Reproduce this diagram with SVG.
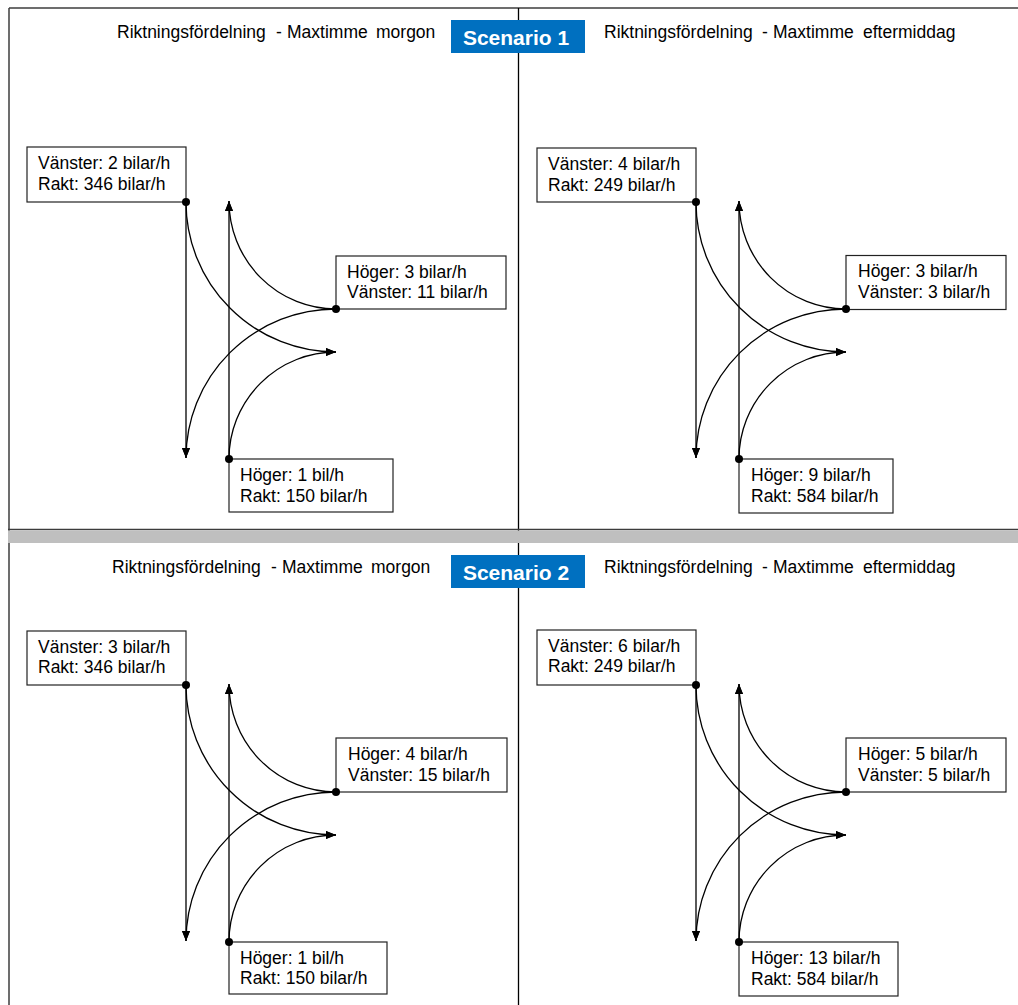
<svg xmlns="http://www.w3.org/2000/svg" width="1018" height="1005" viewBox="0 0 1018 1005">
<style>
  .frame{stroke:#3c3c3c;stroke-width:1.5;fill:none}
  .div{stroke:#000;stroke-width:1.3;fill:none}
  .title{font-family:"Liberation Sans",Arial,sans-serif;font-size:17.5px;fill:#000}
  .scen rect{fill:#0070C0}
  .scen text{font-family:"Liberation Sans",Arial,sans-serif;font-size:21px;font-weight:bold;fill:#fff;text-anchor:middle}
  .box rect{fill:#fff;stroke:#222;stroke-width:1.2}
  .box text{font-family:"Liberation Sans",Arial,sans-serif;font-size:17.5px;fill:#000}
  .flow{stroke:#000;stroke-width:1.3;fill:none;marker-end:url(#ah)}
  .dot{fill:#000}
</style>
<defs>
  <marker id="ah" markerUnits="userSpaceOnUse" markerWidth="10" markerHeight="8" viewBox="0 0 10 8" refX="10" refY="4" orient="auto">
    <path d="M0,0 L10,4 L0,8 z" fill="#000"/>
  </marker>
  <g id="flows">
    <path class="flow" d="M186,202 V458"/>
    <path class="flow" d="M229,459 V201"/>
    <path class="flow" d="M186,202 A150,150 0 0 0 336,352"/>
    <path class="flow" d="M336,309 A107,108 0 0 1 229,201"/>
    <path class="flow" d="M336,309 A150,149 0 0 0 186,458"/>
    <path class="flow" d="M229,459 A107,107 0 0 1 336,352"/>
  </g>
</defs>
<rect x="0" y="0" width="1018" height="1005" fill="#fff"/>

<g id="frame">
  <line class="frame" x1="9" y1="8" x2="1018" y2="8"/>
  <line class="frame" x1="9" y1="8" x2="9" y2="1005"/>
  <line class="div" x1="518.5" y1="8" x2="518.5" y2="1005"/>
  <line class="frame" x1="8" y1="529.5" x2="1018" y2="529.5"/>
  <rect x="8" y="530.5" width="1010" height="12.5" fill="#BFBFBF"/>
</g>

<g id="titles">
  <text class="title" y="37.5"><tspan x="117">Riktningsfördelning</tspan><tspan x="276">-</tspan><tspan x="287">Maxtimme</tspan><tspan x="376">morgon</tspan></text>
  <text class="title" y="37.5"><tspan x="604">Riktningsfördelning</tspan><tspan x="762">-</tspan><tspan x="773">Maxtimme</tspan><tspan x="863">eftermiddag</tspan></text>
  <text class="title" y="572.5"><tspan x="112">Riktningsfördelning</tspan><tspan x="271">-</tspan><tspan x="282">Maxtimme</tspan><tspan x="371">morgon</tspan></text>
  <text class="title" y="572.5"><tspan x="604">Riktningsfördelning</tspan><tspan x="762">-</tspan><tspan x="773">Maxtimme</tspan><tspan x="863">eftermiddag</tspan></text>
</g>

<g id="scenario1" class="scen">
  <rect x="451" y="20" width="134" height="33"/>
  <text x="516" y="44.5">Scenario 1</text>
</g>
<g id="scenario2" class="scen">
  <rect x="451" y="555" width="134" height="33"/>
  <text x="516" y="580">Scenario 2</text>
</g>

<g id="connectors">
  <use href="#flows"/>
  <use href="#flows" transform="translate(510,0)"/>
  <use href="#flows" transform="translate(0,483)"/>
  <use href="#flows" transform="translate(510,483)"/>
</g>

<!-- Panel 1: Scenario 1 morgon -->
<g id="s1m-north" class="box">
  <rect x="27" y="147" width="159" height="55"/>
  <text x="38" y="168.5">Vänster: 2 bilar/h</text>
  <text x="38" y="189.5">Rakt: 346 bilar/h</text>
  <circle class="dot" cx="186" cy="202" r="4"/>
</g>
<g id="s1m-east" class="box">
  <rect x="336" y="256" width="170" height="53"/>
  <text x="347" y="277.5">Höger: 3 bilar/h</text>
  <text x="347" y="298">Vänster: 11 bilar/h</text>
  <circle class="dot" cx="336" cy="309" r="4"/>
</g>
<g id="s1m-south" class="box">
  <rect x="229" y="459" width="164" height="53"/>
  <text x="240" y="481">Höger: 1 bil/h</text>
  <text x="240" y="502">Rakt: 150 bilar/h</text>
  <circle class="dot" cx="229" cy="459" r="4"/>
</g>

<!-- Panel 2: Scenario 1 eftermiddag -->
<g id="s1e-north" class="box">
  <rect x="537" y="148" width="159" height="54"/>
  <text x="548" y="170">Vänster: 4 bilar/h</text>
  <text x="548" y="190.5">Rakt: 249 bilar/h</text>
  <circle class="dot" cx="696" cy="202" r="4"/>
</g>
<g id="s1e-east" class="box">
  <rect x="846" y="255.5" width="160" height="54"/>
  <text x="858" y="277">Höger: 3 bilar/h</text>
  <text x="858" y="297.5">Vänster: 3 bilar/h</text>
  <circle class="dot" cx="846" cy="309" r="4"/>
</g>
<g id="s1e-south" class="box">
  <rect x="739" y="459" width="154" height="54"/>
  <text x="751" y="481">Höger: 9 bilar/h</text>
  <text x="751" y="501.5">Rakt: 584 bilar/h</text>
  <circle class="dot" cx="739" cy="459" r="4"/>
</g>

<!-- Panel 3: Scenario 2 morgon -->
<g id="s2m-north" class="box">
  <rect x="27" y="631" width="159" height="54"/>
  <text x="38" y="652.5">Vänster: 3 bilar/h</text>
  <text x="38" y="673">Rakt: 346 bilar/h</text>
  <circle class="dot" cx="186" cy="685" r="4"/>
</g>
<g id="s2m-east" class="box">
  <rect x="336" y="738" width="171" height="54"/>
  <text x="348" y="760">Höger: 4 bilar/h</text>
  <text x="348" y="780.5">Vänster: 15 bilar/h</text>
  <circle class="dot" cx="336" cy="792" r="4"/>
</g>
<g id="s2m-south" class="box">
  <rect x="229" y="942" width="158" height="52"/>
  <text x="240" y="963.5">Höger: 1 bil/h</text>
  <text x="240" y="984">Rakt: 150 bilar/h</text>
  <circle class="dot" cx="229" cy="942" r="4"/>
</g>

<!-- Panel 4: Scenario 2 eftermiddag -->
<g id="s2e-north" class="box">
  <rect x="537" y="630" width="159" height="55"/>
  <text x="548" y="651.5">Vänster: 6 bilar/h</text>
  <text x="548" y="672">Rakt: 249 bilar/h</text>
  <circle class="dot" cx="696" cy="685" r="4"/>
</g>
<g id="s2e-east" class="box">
  <rect x="846" y="738" width="160" height="54"/>
  <text x="858" y="760">Höger: 5 bilar/h</text>
  <text x="858" y="780.5">Vänster: 5 bilar/h</text>
  <circle class="dot" cx="846" cy="792" r="4"/>
</g>
<g id="s2e-south" class="box">
  <rect x="739" y="942" width="159" height="54"/>
  <text x="751" y="964">Höger: 13 bilar/h</text>
  <text x="751" y="984.5">Rakt: 584 bilar/h</text>
  <circle class="dot" cx="739" cy="942" r="4"/>
</g>
</svg>
